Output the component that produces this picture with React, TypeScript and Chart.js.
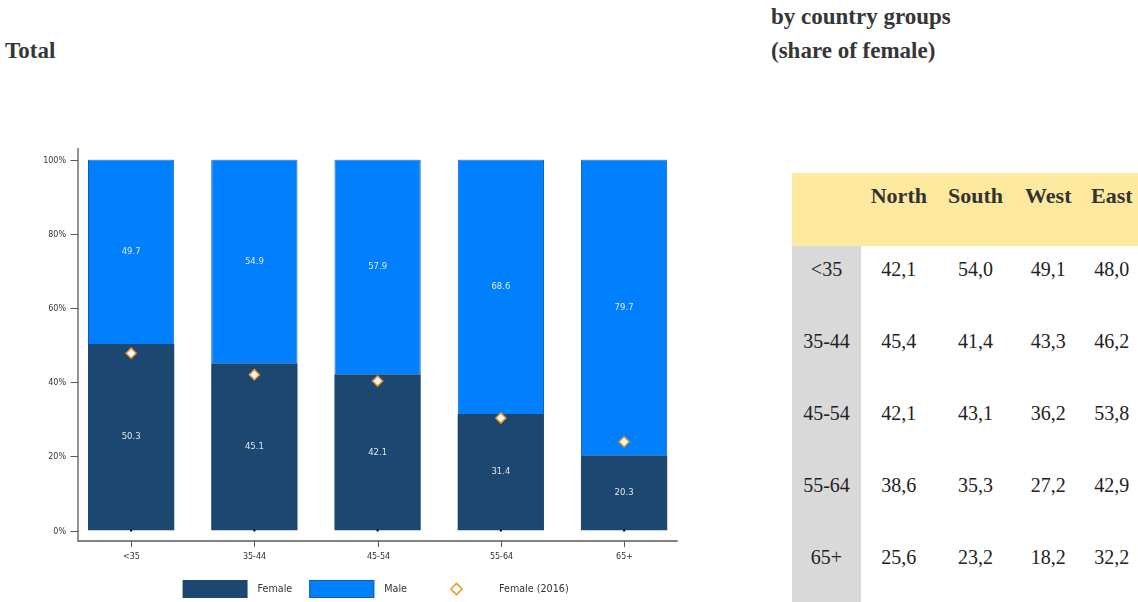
import React, { useEffect, useRef } from "react";
import { Chart, registerables } from "chart.js";
Chart.register(...registerables);

// ---- data ----
const categories = ["<35", "35-44", "45-54", "55-64", "65+"];
const femaleValues = [50.3, 45.1, 42.1, 31.4, 20.3];
const maleValues = [49.7, 54.9, 57.9, 68.6, 79.7];
const female2016Values = [47.8, 42.0, 40.3, 30.3, 23.9];
const yTickValues = [0, 20, 40, 60, 80, 100];

const tableColumns = ["North", "South", "West", "East"];
const tableRowLabels = ["<35", "35-44", "45-54", "55-64", "65+"];
const northValues = ["42,1", "45,4", "42,1", "38,6", "25,6"];
const southValues = ["54,0", "41,4", "43,1", "35,3", "23,2"];
const westValues = ["49,1", "43,3", "36,2", "27,2", "18,2"];
const eastValues = ["48,0", "46,2", "53,8", "42,9", "32,2"];

const DARK = "#1c4770";
const BLUE = "#0080ff";
const BLUE_BORDER = "#0d5fae";
const ORANGE = "#f29325";
const SANS = "'DejaVu Sans', sans-serif";
const SERIF = "'Liberation Serif', serif";

const drawDiamond = (ctx: CanvasRenderingContext2D, x: number, y: number, r: number) => {
  ctx.beginPath();
  ctx.moveTo(x - r, y);
  ctx.lineTo(x, y - r);
  ctx.lineTo(x + r, y);
  ctx.lineTo(x, y + r);
  ctx.closePath();
  ctx.fillStyle = "#ffffff";
  ctx.fill();
  ctx.lineWidth = 1.5;
  ctx.strokeStyle = ORANGE;
  ctx.stroke();
};

const customPlugin = {
  id: "customDecor",
  afterDatasetsDraw(chart: any) {
    const ctx = chart.ctx as CanvasRenderingContext2D;
    ctx.save();
    ctx.font = `8.5px ${SANS}`;
    ctx.fillStyle = "#dfe6ee";
    ctx.textAlign = "center";
    ctx.textBaseline = "middle";
    [0, 1].forEach((di) => {
      const meta = chart.getDatasetMeta(di);
      meta.data.forEach((el: any, i: number) => {
        const v = chart.data.datasets[di].data[i] as number;
        ctx.fillText(v.toFixed(1), el.x, (el.y + el.base) / 2);
      });
    });
    ctx.restore();
  },
  afterDraw(chart: any) {
    const ctx = chart.ctx as CanvasRenderingContext2D;
    const area = chart.chartArea;
    const xs = chart.scales.x;
    const ys = chart.scales.y;
    const zeroY = ys.getPixelForValue(0);
    const topY = ys.getPixelForValue(100);
    const axisX = area.left + 8.5;
    const axisY = zeroY + 10.5;
    const axisRight = area.right - 8;
    ctx.save();
    // small dots at bar bases
    ctx.fillStyle = "#000";
    categories.forEach((_, i) => {
      const cx = xs.getPixelForValue(i);
      ctx.fillRect(cx - 1, zeroY - 1, 2, 2);
    });
    // axes
    ctx.strokeStyle = "#5a5a5a";
    ctx.lineWidth = 1.3;
    ctx.beginPath();
    ctx.moveTo(axisX, topY - 11.5);
    ctx.lineTo(axisX, axisY);
    ctx.lineTo(axisRight, axisY);
    ctx.stroke();
    ctx.lineWidth = 1;
    // y ticks
    ctx.font = `8px ${SANS}`;
    ctx.fillStyle = "#333";
    ctx.textAlign = "right";
    ctx.textBaseline = "middle";
    yTickValues.forEach((v) => {
      const py = Math.round(ys.getPixelForValue(v)) + 0.5;
      ctx.beginPath();
      ctx.moveTo(axisX - 7.5, py);
      ctx.lineTo(axisX, py);
      ctx.stroke();
      ctx.fillText(v + "%", axisX - 12, py);
    });
    // x ticks
    ctx.textAlign = "center";
    categories.forEach((c, i) => {
      const px = Math.round(xs.getPixelForValue(i)) + 0.5;
      ctx.beginPath();
      ctx.moveTo(px, axisY);
      ctx.lineTo(px, axisY + 6);
      ctx.stroke();
      ctx.fillText(c, px, axisY + 16);
    });
    // legend
    const items = chart.data.datasets.map((d: any) => d.label as string);
    ctx.font = `9.6px ${SANS}`;
    const boxW = 65, boxH = 18, textGap = 10, itemGap = 17;
    const widths = items.map((t: string) => boxW + textGap + ctx.measureText(t).width);
    const total = widths.reduce((a: number, b: number) => a + b, 0) + itemGap * (items.length - 1);
    let lx = (area.left + area.right) / 2 - total / 2 - 2;
    const ly = 589;
    items.forEach((t: string, i: number) => {
      const ds = chart.data.datasets[i];
      if (i === 0) {
        ctx.fillStyle = ds.backgroundColor;
        ctx.fillRect(lx, ly - boxH / 2, boxW, boxH);
      } else if (i === 1) {
        ctx.fillStyle = ds.backgroundColor;
        ctx.fillRect(lx, ly - boxH / 2, boxW, boxH);
        ctx.strokeStyle = ds.borderColor;
        ctx.strokeRect(lx + 0.5, ly - boxH / 2 + 0.5, boxW - 1, boxH - 1);
      } else {
        drawDiamond(ctx, lx + boxW / 2, ly, 5.6);
      }
      ctx.fillStyle = "#333";
      ctx.textAlign = "left";
      ctx.textBaseline = "middle";
      ctx.fillText(t, lx + boxW + textGap, ly);
      lx += widths[i] + itemGap;
    });
    ctx.restore();
  },
};

function BarChart() {
  const ref = useRef<HTMLCanvasElement>(null);
  useEffect(() => {
    if (!ref.current) return;
    const chart = new Chart(ref.current, {
      type: "bar",
      data: {
        labels: categories,
        datasets: [
          {
            label: "Female",
            data: femaleValues,
            backgroundColor: DARK,
            borderWidth: 0,
            order: 2,
          } as any,
          {
            label: "Male",
            data: maleValues,
            backgroundColor: BLUE,
            borderColor: BLUE_BORDER,
            borderWidth: 1,
            borderSkipped: "start",
            order: 2,
          } as any,
          {
            type: "line",
            label: "Female (2016)",
            data: female2016Values,
            stack: "ref2016",
            showLine: false,
            pointStyle: "rectRot",
            pointRadius: 5,
            pointBackgroundColor: "#ffffff",
            pointBorderColor: ORANGE,
            pointBorderWidth: 1.5,
            order: 0,
          } as any,
        ],
      },
      options: {
        animation: false,
        responsive: false,
        maintainAspectRatio: false,
        layout: { padding: { left: 69.5, right: 74.3, top: 159.5, bottom: 71.5 } },
        datasets: { bar: { barPercentage: 0.7, categoryPercentage: 1 } } as any,
        scales: {
          x: { display: false, stacked: true, offset: true },
          y: { display: false, stacked: true, min: 0, max: 100 },
        },
        plugins: { legend: { display: false }, tooltip: { enabled: false } },
      },
      plugins: [customPlugin],
    });
    return () => chart.destroy();
  }, []);
  return <canvas ref={ref} width={760} height={602} style={{ position: "absolute", left: 0, top: 0, width: 760, height: 602 }} />;
}

function DataTable() {
  const cols = [northValues, southValues, westValues, eastValues];
  const colWidths = [69, 75.7, 77.6, 68, 59];
  const cellBase: React.CSSProperties = {
    padding: 0,
    paddingTop: 11,
    height: 61,
    lineHeight: "24px",
    textAlign: "center",
    verticalAlign: "top",
    whiteSpace: "nowrap",
  };
  return (
    <div style={{ position: "absolute", left: 792, top: 173, width: 346, height: 429, overflow: "hidden" }}>
      <table style={{ borderCollapse: "collapse", tableLayout: "fixed", width: colWidths.reduce((a, b) => a + b, 0), fontFamily: SERIF, fontSize: 20, color: "#222" }}>
        <colgroup>
          {colWidths.map((w, i) => (
            <col key={i} style={{ width: w }} />
          ))}
        </colgroup>
        <thead>
          <tr style={{ background: "#fdea9f" }}>
            <th style={{ ...cellBase, height: 61.5 }}></th>
            {tableColumns.map((c) => (
              <th key={c} style={{ ...cellBase, height: 61.5, fontSize: 22, fontWeight: "bold", color: "#333" }}>
                {c}
              </th>
            ))}
          </tr>
        </thead>
        <tbody>
          {tableRowLabels.map((r, ri) => (
            <tr key={r}>
              <td style={{ ...cellBase, background: "#d9d9d9" }}>{r}</td>
              {cols.map((col, ci) => (
                <td key={ci} style={cellBase}>
                  {col[ri]}
                </td>
              ))}
            </tr>
          ))}
        </tbody>
      </table>
    </div>
  );
}

export default function App() {
  const titleStyle: React.CSSProperties = {
    position: "absolute",
    fontFamily: SERIF,
    fontWeight: "bold",
    fontSize: 23,
    color: "#363636",
    whiteSpace: "nowrap",
    lineHeight: "23px",
  };
  return (
    <div style={{ position: "absolute", left: 0, top: 0, width: 1138, height: 602, overflow: "hidden", background: "#fff" }}>
      <div style={{ ...titleStyle, left: 5, top: 39 }}>Total</div>
      <div style={{ ...titleStyle, left: 771, top: 5 }}>by country groups</div>
      <div style={{ ...titleStyle, left: 771, top: 38.5 }}>(share of female)</div>
      <BarChart />
      <DataTable />
    </div>
  );
}
